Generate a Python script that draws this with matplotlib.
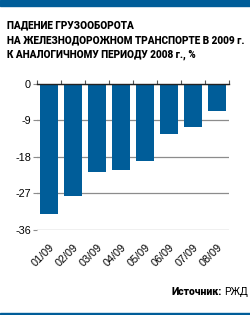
import matplotlib
matplotlib.use("Agg")
import matplotlib.pyplot as plt
from matplotlib.patches import Rectangle

# Data
months = ["01/09", "02/09", "03/09", "04/09", "05/09", "06/09", "07/09", "08/09"]
decline = [-32.1, -27.6, -21.8, -21.2, -19.0, -12.3, -10.8, -6.8]
yticks = [0, -9, -18, -27, -36]

blue = "#005d99"
head = ["Roboto", "DejaVu Sans"]   # no condensed face here, Roboto is the narrowest
plain = ["Liberation Sans", "DejaVu Sans"]

fig = plt.figure(figsize=(2.5, 3.15), dpi=100)
renderer = fig.canvas.get_renderer()

# top and bottom blue bands
fig.patches.append(Rectangle((0, 1 - 5.5 / 315), 1, 5.5 / 315, transform=fig.transFigure,
                             color=blue, zorder=0))
fig.patches.append(Rectangle((0, 0), 1, 2.5 / 315, transform=fig.transFigure,
                             color=blue, zorder=0))

# title, sized so the long line spans the width
title_lines = ["ПАДЕНИЕ ГРУЗООБОРОТА",
               "НА ЖЕЛЕЗНОДОРОЖНОМ ТРАНСПОРТЕ В 2009 г.",
               "К АНАЛОГИЧНОМУ ПЕРИОДУ 2008 г., %"]
texts = []
for i, line in enumerate(title_lines):
    texts.append(fig.text(7 / 250, 1 - (25 + 15 * i) / 315, line, family=head,
                          weight="black", fontsize=9, va="center", ha="left"))
scale = 238 / texts[1].get_window_extent(renderer).width
for t in texts:
    t.set_fontsize(9 * scale)

ax = fig.add_axes([37.3 / 250, 1 - 230 / 315, (228.7 - 37.3) / 250, (230 - 83.5) / 315])
x = list(range(len(months)))
ax.bar(x, decline, width=0.74, color=blue, zorder=3)
ax.set_xlim(-0.5, len(months) - 0.5)
ax.set_ylim(-36, 0)

for s in ["left", "right", "bottom"]:
    ax.spines[s].set_visible(False)
ax.spines["top"].set_color("#222222")
ax.spines["top"].set_linewidth(1.0)
ax.spines["top"].set_zorder(4)

ax.set_yticks(yticks)
ax.set_yticklabels([str(v) for v in yticks], family=plain)
ax.grid(axis="y", color="#8c8c8c", linewidth=0.9, zorder=1)
ax.tick_params(axis="y", length=3, width=0.8, color="#8c8c8c", pad=1.5, labelsize=7.8)

ax.set_xticks(x)
ax.set_xticklabels(months, rotation=45, ha="right", rotation_mode="anchor", family=plain)
ax.tick_params(axis="x", which="major", length=0, pad=9, labelsize=7.8)
ax.set_xticks([i - 0.5 for i in range(len(months) + 1)], minor=True)
ax.tick_params(axis="x", which="minor", top=True, bottom=False, direction="out",
               length=3, width=0.8, color="#555555")

# source: bold label + plain name, right aligned, about 76 px wide in total
src_y = 1 - 292 / 315
fs = 9
rzd = fig.text(248 / 250, src_y, "РЖД", family=head, fontsize=fs, ha="right", va="center")
bb = rzd.get_window_extent(renderer)
lab = fig.text((bb.x0 - 2) / 250, src_y, "Источник:", family=head, weight="black",
               fontsize=fs, ha="right", va="center")
k = 76 / (248 - lab.get_window_extent(renderer).x0)
rzd.set_fontsize(fs * k)
bb = rzd.get_window_extent(renderer)
lab.set_fontsize(fs * k)
lab.set_x((bb.x0 - 2) / 250)

fig.savefig("out.png", dpi=100)
